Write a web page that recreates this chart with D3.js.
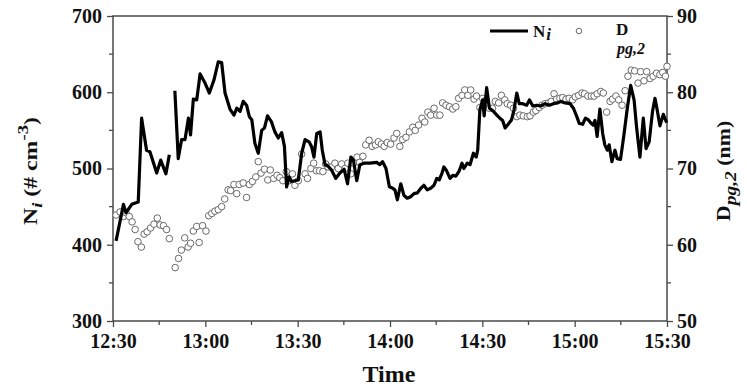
<!DOCTYPE html>
<html><head><meta charset="utf-8">
<script src="https://cdn.jsdelivr.net/npm/d3@7"></script>
<style>
html,body{margin:0;padding:0;background:#fff;}
svg text{font-family:"Liberation Serif","Times New Roman",serif;font-weight:bold;fill:#111;}
</style></head>
<body>
<svg id="chart" width="747" height="389"></svg>
<script>
// minutes after 12:30
const niTime = [1.0,3.4,4.2,6.1,8.2,9.3,10.9,12.0,14.2,15.5,17.2,18.3,19.2,20.1,21.2,22.3,23.4,24.5,25.2,26.1,27.2,28.3,29.9,31.3,32.8,34.2,35.3,36.4,38.0,39.3,40.2,41.3,42.3,43.4,44.3,45.1,46.1,47.2,48.3,49.2,50.2,51.5,52.6,53.7,54.8,55.7,56.4,57.2,58.0,59.1,60.2,61.3,62.4,63.7,64.5,65.3,66.2,67.3,68.0,68.9,69.9,71.0,72.4,73.7,75.1,76.2,77.3,78.1,79.2,80.2,81.6,83.5,85.7,86.7,87.6,88.7,89.8,90.9,91.6,92.4,93.5,94.5,95.6,96.7,97.8,98.9,100.0,101.0,102.1,103.2,104.3,105.2,106.0,106.9,107.5,108.4,109.5,110.4,111.4,112.5,113.4,114.0,115.1,116.0,117.1,118.0,118.5,119.2,120.1,120.6,121.4,122.3,123.6,124.7,125.7,126.6,127.4,128.4,129.5,130.3,131.2,132.0,133.1,134.4,135.3,136.4,137.7,138.9,140.4,141.8,143.1,144.4,145.5,146.9,148.5,149.6,150.7,151.5,152.6,153.5,154.4,155.2,156.0,156.6,157.3,158.2,159.1,159.8,160.6,161.2,162.1,163.1,163.8,164.9,166.0,167.1,168.2,169.3,170.1,171.2,172.3,173.2,174.2,175.3,176.1,176.8,177.7,178.8,179.9];
const niValue = [405,453,442,453,456,566,524,522,494,511,493,518,null,602,513,538,538,566,544,591,590,624,612,599,616,640,639,599,578,570,579,575,588,583,568,564,533,520,550,553,569,561,548,540,547,529,476,489,483,484,485,520,538,535,529,515,546,548,524,505,503,498,487,494,499,480,515,511,484,505,507,507,508,505,509,500,476,474,472,459,480,465,461,463,467,468,474,478,472,474,478,487,485,494,502,497,487,491,490,497,507,500,507,505,520,515,524,577,590,569,606,579,575,570,566,563,553,558,564,577,599,585,585,583,590,582,583,582,585,583,585,586,588,586,585,579,568,559,558,566,564,560,557,563,542,578,546,531,524,531,509,524,513,512,544,579,609,590,555,515,566,526,535,575,592,577,556,571,560];

const dpTime = [1.0,2.3,3.4,4.2,5.3,6.2,7.2,8.1,9.2,10.1,11.1,12.2,13.3,14.4,15.3,16.4,17.4,18.3,20.2,21.3,22.2,23.3,24.4,25.2,26.1,27.2,28.0,29.1,30.2,31.1,32.1,33.1,34.2,35.3,36.3,37.4,38.2,39.3,40.2,41.0,42.3,43.4,44.3,45.3,46.4,47.2,48.1,49.2,50.3,51.1,52.2,53.3,54.2,55.2,56.3,57.2,58.3,59.1,60.2,61.3,62.4,63.2,64.3,65.2,66.1,67.1,68.2,69.1,69.9,71.0,72.1,73.2,74.3,75.4,76.3,77.3,78.2,79.3,80.1,81.2,82.1,83.2,84.2,85.3,86.2,87.2,88.1,89.1,90.2,91.3,92.2,93.2,94.1,95.2,96.3,97.4,98.2,99.3,100.4,101.3,102.3,103.2,104.3,105.2,106.2,107.1,108.2,109.3,110.4,111.4,112.3,113.4,114.3,115.3,116.2,117.3,118.1,119.2,120.1,121.2,122.3,123.3,124.2,125.3,126.2,127.3,128.1,129.2,130.1,131.2,132.2,133.3,134.6,135.5,136.6,137.4,138.5,139.4,140.4,141.5,142.4,143.3,144.1,145.2,146.1,147.2,148.2,149.3,150.2,151.3,152.4,153.2,154.3,155.4,156.3,157.3,158.5,159.3,160.4,161.5,162.3,163.4,164.3,165.4,166.4,167.3,168.4,169.5,170.6,171.4,172.5,173.4,174.5,175.5,176.6,177.7,178.6,179.5,180.0];
const dpValue = [63.9,64.3,63.7,64.2,63.7,63.0,62.0,60.4,59.7,61.4,61.7,62.2,62.7,63.5,62.6,62.5,62.0,60.8,57.0,58.2,59.3,60.9,59.7,60.2,61.8,62.4,60.3,62.5,61.8,63.8,64.1,64.4,64.6,65.0,66.0,67.2,67.1,67.9,66.7,67.9,68.1,66.2,67.9,68.3,68.9,70.9,69.4,69.9,68.5,69.8,68.7,69.1,68.8,68.4,69.6,68.4,69.3,67.8,68.4,71.9,69.3,68.7,70.0,70.7,69.7,69.7,69.6,70.6,70.2,70.2,70.7,70.0,70.6,70.0,70.7,69.3,70.7,71.5,70.8,71.6,73.1,73.7,72.9,73.1,73.5,73.2,72.9,73.4,73.2,74.0,74.6,72.9,73.8,74.1,74.8,75.4,75.0,75.7,76.6,76.1,77.4,77.0,77.9,77.0,77.0,78.6,78.3,78.1,77.8,78.1,79.2,79.6,80.3,79.6,80.3,79.1,79.5,78.0,79.2,79.0,77.9,77.9,78.8,78.6,79.6,79.0,78.5,78.3,77.9,76.8,77.0,76.9,76.8,76.9,77.4,77.6,78.0,78.3,78.5,78.6,78.8,79.8,79.1,79.2,79.3,79.1,79.2,79.0,79.4,79.6,79.9,79.8,79.5,79.5,79.5,79.8,80.1,79.9,77.4,78.8,79.1,79.5,79.0,78.3,80.2,82.1,82.9,82.8,81.2,82.7,81.5,82.7,81.8,82.1,82.5,82.3,82.6,82.1,83.4];

const xTickLabels = ["12:30","13:00","13:30","14:00","14:30","15:00","15:30"];
const niTicks = [300,400,500,600,700];
const dpTicks = [50,60,70,80,90];

const svg = d3.select("#chart");
const L = 113, R = 667, T = 16, B = 321;
const axisColor = "#4a4a4a";

const x = d3.scaleLinear().domain([0,180]).range([L,R]);
const yL = d3.scaleLinear().domain([300,700]).range([B,T]);
const yR = d3.scaleLinear().domain([50,90]).range([B,T]);

// minor ticks
const minorG = svg.append("g").attr("stroke",axisColor).attr("stroke-width",1.3);
d3.range(15,180,30).forEach(m=>{
  minorG.append("line").attr("x1",x(m)).attr("x2",x(m)).attr("y1",B).attr("y2",B+4);
});
d3.range(350,700,100).forEach(v=>{
  minorG.append("line").attr("x1",L).attr("x2",L-4).attr("y1",yL(v)).attr("y2",yL(v));
});
d3.range(55,90,10).forEach(v=>{
  minorG.append("line").attr("x1",R).attr("x2",R+4).attr("y1",yR(v)).attr("y2",yR(v));
});

function styleAxis(g){
  g.select(".domain").remove();
  g.selectAll(".tick line").attr("stroke",axisColor).attr("stroke-width",1.3);
  g.selectAll(".tick text").attr("font-size",20).attr("font-family","Liberation Serif").attr("font-weight","bold").attr("fill","#111");
}
const xAxis = d3.axisBottom(x).tickValues(d3.range(0,181,30)).tickFormat((d,i)=>xTickLabels[i]).tickSize(6).tickPadding(7);
svg.append("g").attr("transform",`translate(0,${B})`).call(xAxis).call(styleAxis);
const lAxis = d3.axisLeft(yL).tickValues(niTicks).tickFormat(d3.format("d")).tickSize(6).tickPadding(5);
svg.append("g").attr("transform",`translate(${L},0)`).call(lAxis).call(styleAxis);
const rAxis = d3.axisRight(yR).tickValues(dpTicks).tickFormat(d3.format("d")).tickSize(6).tickPadding(4);
svg.append("g").attr("transform",`translate(${R},0)`).call(rAxis).call(styleAxis);

// frame
svg.append("rect").attr("x",L).attr("y",T).attr("width",R-L).attr("height",B-T)
  .attr("fill","none").attr("stroke",axisColor).attr("stroke-width",1.5);

// circles (Dpg,2)
const dpData = dpTime.map((t,i)=>({t, v:dpValue[i]}));
svg.append("g").selectAll("circle").data(dpData).join("circle")
  .attr("cx",d=>x(d.t)).attr("cy",d=>yR(d.v)).attr("r",3.3)
  .attr("fill","#fff").attr("stroke","#6a6a6a").attr("stroke-width",1);

// line (Ni)
const niData = niTime.map((t,i)=>({t, v:niValue[i]}));
const line = d3.line().defined(d=>d.v!==null).x(d=>x(d.t)).y(d=>yL(d.v));
svg.append("path").datum(niData).attr("d",line)
  .attr("fill","none").attr("stroke","#000").attr("stroke-width",3.2).attr("stroke-linejoin","round");

// legend
const lg = svg.append("g");
lg.append("line").attr("x1",490).attr("x2",528).attr("y1",31).attr("y2",31).attr("stroke","#000").attr("stroke-width",3);
const lt = lg.append("text").attr("x",533).attr("y",37).attr("font-size",17);
lt.append("tspan").text("N");
lt.append("tspan").attr("font-style","italic").attr("dy",3).attr("dx",1).text("i");
lg.append("circle").attr("cx",579).attr("cy",31).attr("r",2.8).attr("fill","#fff").attr("stroke","#6a6a6a").attr("stroke-width",1);
lg.append("text").attr("x",616).attr("y",35).attr("font-size",17).text("D");
lg.append("text").attr("x",617).attr("y",54).attr("font-size",16).attr("font-style","italic").text("pg,2");

// axis titles
const ltitle = svg.append("text").attr("transform","translate(37,171) rotate(-90) scale(1.25,1)")
  .attr("text-anchor","middle").attr("font-size",19);
ltitle.append("tspan").text("N");
ltitle.append("tspan").attr("font-style","italic").attr("font-size",15).attr("dy",5).text("i");
ltitle.append("tspan").attr("dy",-5).text(" (# cm");
ltitle.append("tspan").attr("font-size",15).attr("dy",-9).text("-3");
ltitle.append("tspan").attr("dy",9).text(")");

const rtitle = svg.append("text").attr("transform","translate(730,171) rotate(-90) scale(1.15,1)")
  .attr("text-anchor","middle").attr("font-size",19);
rtitle.append("tspan").text("D");
rtitle.append("tspan").attr("font-style","italic").attr("font-size",17).attr("dy",6).text("pg,2");
rtitle.append("tspan").attr("dy",-6).text(" (nm)");

svg.append("text").attr("x",389).attr("y",382).attr("text-anchor","middle").attr("font-size",24).text("Time");
</script>
</body></html>
